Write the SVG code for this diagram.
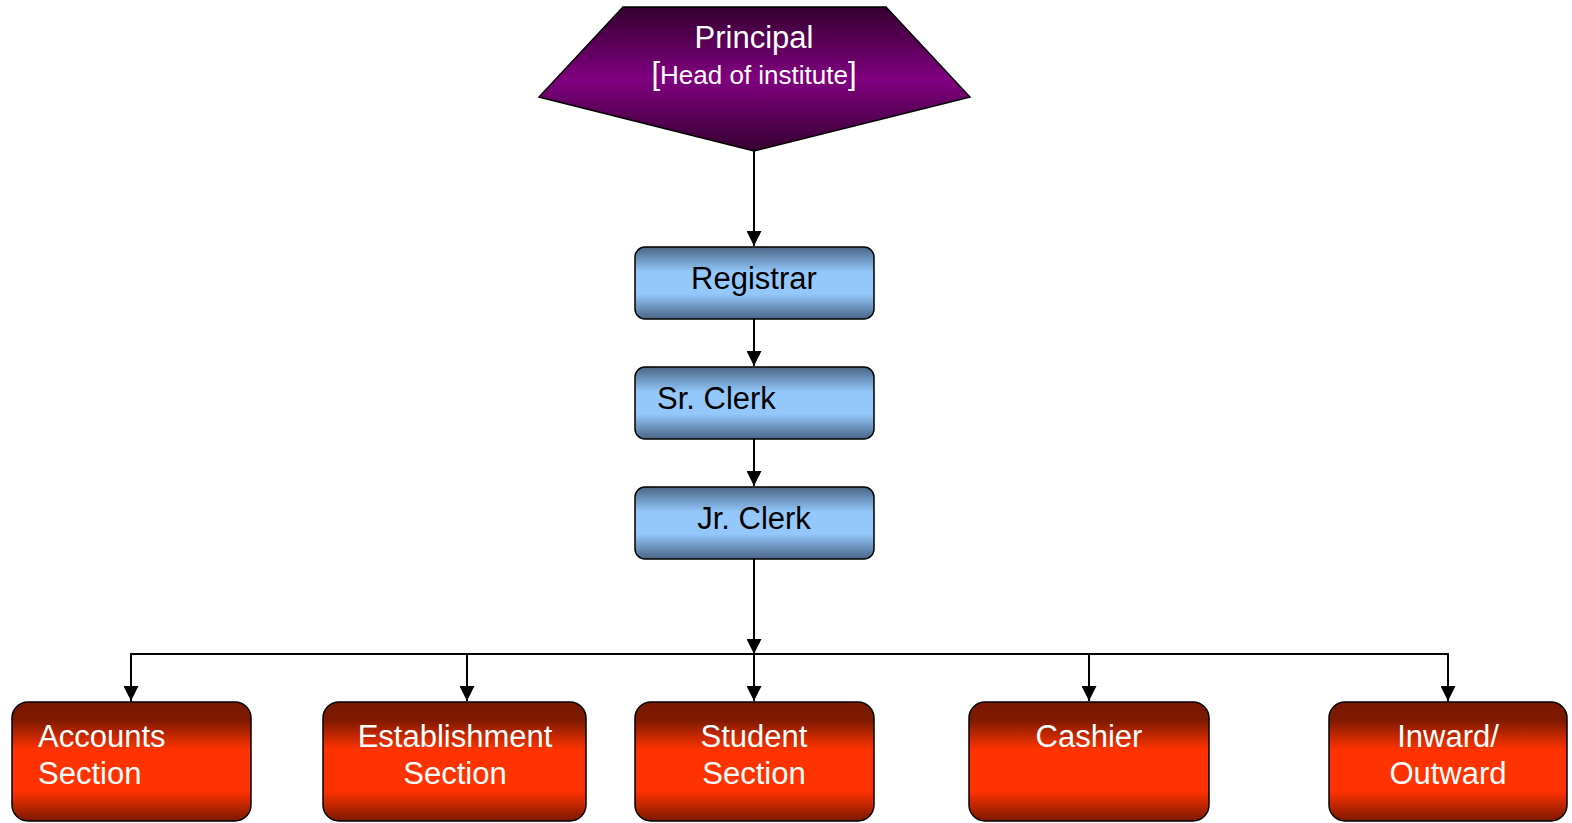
<svg xmlns="http://www.w3.org/2000/svg" width="1572" height="823" viewBox="0 0 1572 823">
<defs>
<linearGradient id="gPurple" x1="0" y1="0" x2="0" y2="1">
<stop offset="0" stop-color="#35002f"/>
<stop offset="0.5" stop-color="#800080"/>
<stop offset="1" stop-color="#35002f"/>
</linearGradient>
<linearGradient id="gBlue" x1="0" y1="0" x2="0" y2="1">
<stop offset="0" stop-color="#4a6585"/>
<stop offset="0.35" stop-color="#94c8fb"/>
<stop offset="0.65" stop-color="#94c8fb"/>
<stop offset="1" stop-color="#4a6585"/>
</linearGradient>
<linearGradient id="gRed" x1="0" y1="0" x2="0" y2="1">
<stop offset="0" stop-color="#7a1800"/>
<stop offset="0.15" stop-color="#7d1a00"/>
<stop offset="0.4" stop-color="#ff3300"/>
<stop offset="0.75" stop-color="#ff3300"/>
<stop offset="1" stop-color="#7a1800"/>
</linearGradient>
<marker id="arr" markerWidth="15" markerHeight="15" refX="15" refY="7.5" orient="auto" markerUnits="userSpaceOnUse">
<path d="M0,0 L15,7.5 L0,15 z" fill="#000"/>
</marker>
</defs>
<style>
.blue{fill:url(#gBlue);stroke:#000;stroke-width:1.5}
.red{fill:url(#gRed);stroke:#000;stroke-width:1.5}
.t{font-family:"Liberation Sans",Arial,sans-serif;font-size:31px}
.sub{font-size:26px}
.br{font-size:31px}
.w{fill:#fff}
.k{fill:#000}
.c{stroke:#000;stroke-width:2;fill:none}
</style>
<g id="connectors">
<line class="c" x1="754" y1="151" x2="754" y2="246" marker-end="url(#arr)"/>
<line class="c" x1="754" y1="319" x2="754" y2="366" marker-end="url(#arr)"/>
<line class="c" x1="754" y1="439" x2="754" y2="486" marker-end="url(#arr)"/>
<line class="c" x1="754" y1="559" x2="754" y2="654" marker-end="url(#arr)"/>
<polyline class="c" stroke-width="1.5" points="131,702 131,654 1448,654 1448,702"/>
<line class="c" x1="131" y1="654" x2="131" y2="701" marker-end="url(#arr)"/>
<line class="c" x1="467" y1="654" x2="467" y2="701" marker-end="url(#arr)"/>
<line class="c" x1="754" y1="654" x2="754" y2="701" marker-end="url(#arr)"/>
<line class="c" x1="1089" y1="654" x2="1089" y2="701" marker-end="url(#arr)"/>
<line class="c" x1="1448" y1="654" x2="1448" y2="701" marker-end="url(#arr)"/>
</g>
<g id="principal">
<polygon points="623,7 886,7 970,97 754,151 539,97" fill="url(#gPurple)" stroke="#000" stroke-width="1.5"/>
<text class="t w" x="754" y="48" text-anchor="middle">Principal</text>
<text class="t sub w" x="754" y="84" text-anchor="middle"><tspan class="br">[</tspan>Head of institute<tspan class="br">]</tspan></text>
</g>
<g id="registrar">
<rect class="blue" x="635" y="247" width="239" height="72" rx="10"/>
<text class="t k" x="754" y="289" text-anchor="middle">Registrar</text>
</g>
<g id="sr-clerk">
<rect class="blue" x="635" y="367" width="239" height="72" rx="10"/>
<text class="t k" x="657" y="409">Sr. Clerk</text>
</g>
<g id="jr-clerk">
<rect class="blue" x="635" y="487" width="239" height="72" rx="10"/>
<text class="t k" x="754" y="529" text-anchor="middle">Jr. Clerk</text>
</g>
<g id="accounts">
<rect class="red" x="12" y="702" width="239" height="119" rx="16"/>
<text class="t w" x="38" y="747">Accounts</text>
<text class="t w" x="38" y="784">Section</text>
</g>
<g id="establishment">
<rect class="red" x="323" y="702" width="263" height="119" rx="16"/>
<text class="t w" x="455" y="747" text-anchor="middle">Establishment</text>
<text class="t w" x="455" y="784" text-anchor="middle">Section</text>
</g>
<g id="student">
<rect class="red" x="635" y="702" width="239" height="119" rx="16"/>
<text class="t w" x="754" y="747" text-anchor="middle">Student</text>
<text class="t w" x="754" y="784" text-anchor="middle">Section</text>
</g>
<g id="cashier">
<rect class="red" x="969" y="702" width="240" height="119" rx="16"/>
<text class="t w" x="1089" y="747" text-anchor="middle">Cashier</text>
</g>
<g id="inward-outward">
<rect class="red" x="1329" y="702" width="238" height="119" rx="16"/>
<text class="t w" x="1448" y="747" text-anchor="middle">Inward/</text>
<text class="t w" x="1448" y="784" text-anchor="middle">Outward</text>
</g>
</svg>
